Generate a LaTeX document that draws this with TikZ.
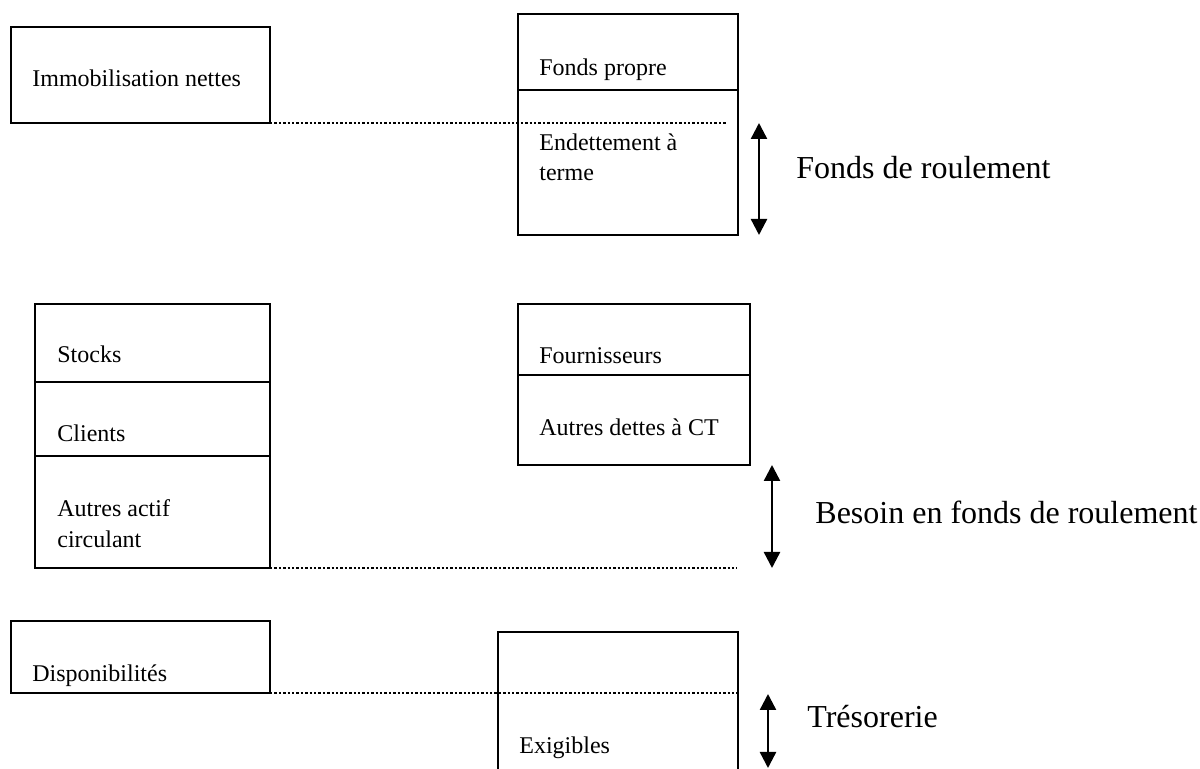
\documentclass[tikz,border=0pt]{standalone}
\usepackage{fontspec}
\setmainfont{Liberation Serif}
\usepackage{xcolor}
\usetikzlibrary{arrows.meta, positioning}
\definecolor{ink}{HTML}{000000}
\tikzset{
  cell/.style={rectangle, draw=ink, line width=0.75pt, inner sep=0pt, outer sep=0pt},
  lbl/.style={anchor=base west, inner sep=0pt, text=ink, font=\fontsize{12}{15}\selectfont},
  biglbl/.style={anchor=base west, inner sep=0pt, text=ink, font=\fontsize{16}{19}\selectfont},
  gap/.style={draw=ink, line width=1.3pt, dash pattern=on 1.2pt off 1pt},
  span/.style={{Triangle[length=8pt,width=8pt]}-{Triangle[length=8pt,width=8pt]}, draw=ink, line width=1.2pt}
}

\begin{document}
\begin{tikzpicture}[x=0.5pt, y=-0.5pt]
  \useasboundingbox (0,0) rectangle (1200,769);
  % actif
  \node[cell, minimum width=129.5pt, minimum height=48pt] (immo) at (140.5,75) {};
  \node[cell, minimum width=117.5pt, minimum height=39pt] (stocks) at (152.5,343) {};
  \node[cell, minimum width=117.5pt, minimum height=37pt, below=0pt of stocks] (clients) {};
  \node[cell, minimum width=117.5pt, minimum height=56pt, below=0pt of clients] (aac) {};
  \node[cell, minimum width=129.5pt, minimum height=36pt] (dispo) at (140.5,657) {};
  % passif
  \node[cell, minimum width=110pt, minimum height=38pt] (fp) at (628,52) {};
  \node[cell, minimum width=110pt, minimum height=72.5pt, below=0pt of fp] (endet) {};
  \node[cell, minimum width=116pt, minimum height=35.5pt] (fourn) at (634,339.5) {};
  \node[cell, minimum width=116pt, minimum height=45pt, below=0pt of fourn] (dettes) {};
  \coordinate (exbl) at (498,769);
  \coordinate (exbr) at (738,769);
  \draw[ink, line width=0.75pt] (exbl) -- (498,632) -- (738,632) -- (exbr);
  % textes
  \node[lbl] (timmo) at (32,87) {Immobilisation nettes};
  \node[lbl] (tstocks) at (57,363) {Stocks};
  \node[lbl] (tclients) at (57,442) {Clients};
  \node[lbl] (taac1) at (57,517) {Autres actif};
  \node[lbl] (taac2) at (57,548) {circulant};
  \node[lbl] (tdispo) at (32,682) {Disponibilités};
  \node[lbl] (tfp) at (539,76) {Fonds propre};
  \node[lbl] (tendet1) at (539,151) {Endettement à};
  \node[lbl] (tendet2) at (539,181) {terme};
  \node[lbl] (tfourn) at (539,364) {Fournisseurs};
  \node[lbl] (tdettes) at (539,436) {Autres dettes à CT};
  \node[lbl] (texig) at (519,754) {Exigibles};
  % niveaux
  \coordinate (g1) at (727,123);
  \coordinate (g2) at (737,568);
  \coordinate (g3) at (737,693);
  \draw[gap] (immo.south east) -- (g1);
  \draw[gap] (aac.south east) -- (g2);
  \draw[gap] (dispo.south east) -- (g3);
  % ecarts
  \coordinate (fr1) at (759,123);
  \coordinate (fr2) at (759,235);
  \coordinate (bfr1) at (772,465);
  \coordinate (bfr2) at (772,568);
  \coordinate (tr1) at (768,694);
  \coordinate (tr2) at (768,768);
  \draw[span] (fr1) -- (fr2);
  \draw[span] (bfr1) -- (bfr2);
  \draw[span] (tr1) -- (tr2);
  \node[biglbl] (tfr) at (796,179) {Fonds de roulement};
  \node[biglbl] (tbfr) at (815,524) {Besoin en fonds de roulement};
  \node[biglbl] (ttr) at (807,728) {Trésorerie};
\end{tikzpicture}
\end{document}
